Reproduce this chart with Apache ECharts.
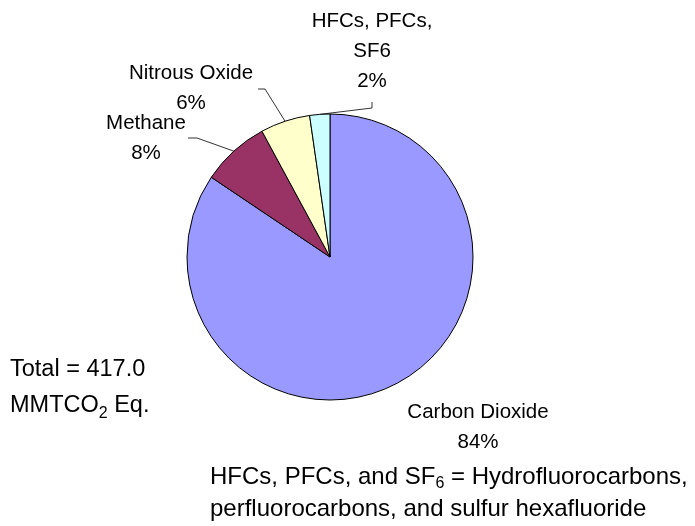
<!DOCTYPE html>
<html>
<head>
<meta charset="utf-8">
<script src="https://cdn.jsdelivr.net/npm/echarts@6/dist/echarts.min.js"></script>
<style>
    html, body { margin: 0; padding: 0; background: #fff; }
    #main { width: 695px; height: 526px; }
</style>
</head>
<body>
<div id="main"></div>
<script>
    // MMTCO2 Eq., total 417.0
    var categories = ['Carbon Dioxide', 'Methane', 'Nitrous Oxide', 'HFCs, PFCs,\nSF6'];
    var emissions = [352.0, 32.1, 23.4, 9.5];
    var colors = ['#9999FF', '#993366', '#FFFFCC', '#CCFFFF'];
    var totalText = ['Total = 417.0', 'MMTCO', '2', ' Eq.'];

    // label anchor (center of text block) and leader knee
    var labelSpots = [
        {x: 478, y: 427, knee: null},
        {x: 146, y: 138, knee: [197, 138], end: [188, 138]},
        {x: 191, y: 88, knee: [265, 89], end: [258, 89]},
        {x: 372, y: 51, knee: [372, 108], end: [372, 102]}
    ];

    var font = '"Liberation Sans", Arial, sans-serif';
    var myChart = echarts.init(document.getElementById('main'));

    var data = categories.map(function (name, i) {
        return {name: name, value: emissions[i], itemStyle: {color: colors[i]}};
    });

    myChart.setOption({
        animation: false,
        backgroundColor: '#fff',
        series: [
            {
                type: 'pie',
                center: [330, 257],
                radius: 143,
                startAngle: 90,
                clockwise: true,
                percentPrecision: 0,
                data: data,
                itemStyle: {
                    borderColor: '#000',
                    borderWidth: 1
                },
                label: {
                    show: true,
                    formatter: '{b}\n{d}%',
                    fontFamily: font,
                    fontSize: 20.5,
                    lineHeight: 30,
                    color: '#000',
                    align: 'center'
                },
                labelLine: {
                    show: true,
                    lineStyle: {color: '#333', width: 1}
                },
                labelLayout: function (params) {
                    var s = labelSpots[params.dataIndex];
                    var out = {x: s.x, y: s.y, align: 'center', verticalAlign: 'middle'};
                    if (s.knee && params.labelLinePoints) {
                        out.labelLinePoints = [params.labelLinePoints[0], s.knee, s.end];
                    } else {
                        out.labelLinePoints = [[0, 0], [0, 0], [0, 0]];
                    }
                    return out;
                }
            }
        ],
        graphic: [
            {
                type: 'text',
                left: 10,
                top: 358,
                style: {
                    text: '{n|' + totalText[0] + '}\n{n|' + totalText[1] + '}{s|' + totalText[2] + '}{n|' + totalText[3] + '}',
                    rich: {
                        n: {fontFamily: font, fontSize: 23.5, lineHeight: 36, fill: '#000'},
                        s: {fontFamily: font, fontSize: 16, lineHeight: 36, fill: '#000', padding: [15, 0, 0, 0]}
                    }
                }
            },
            {
                type: 'text',
                left: 210,
                top: 462,
                style: {
                    text: '{n|HFCs, PFCs, and SF}{s|6}{n| = Hydrofluorocarbons,}\n{n|perfluorocarbons, and sulfur hexafluoride}',
                    rich: {
                        n: {fontFamily: font, fontSize: 24, lineHeight: 32, fill: '#000'},
                        s: {fontFamily: font, fontSize: 16, lineHeight: 32, fill: '#000', padding: [14, 0, 0, 0]}
                    }
                }
            }
        ]
    });
</script>
</body>
</html>
